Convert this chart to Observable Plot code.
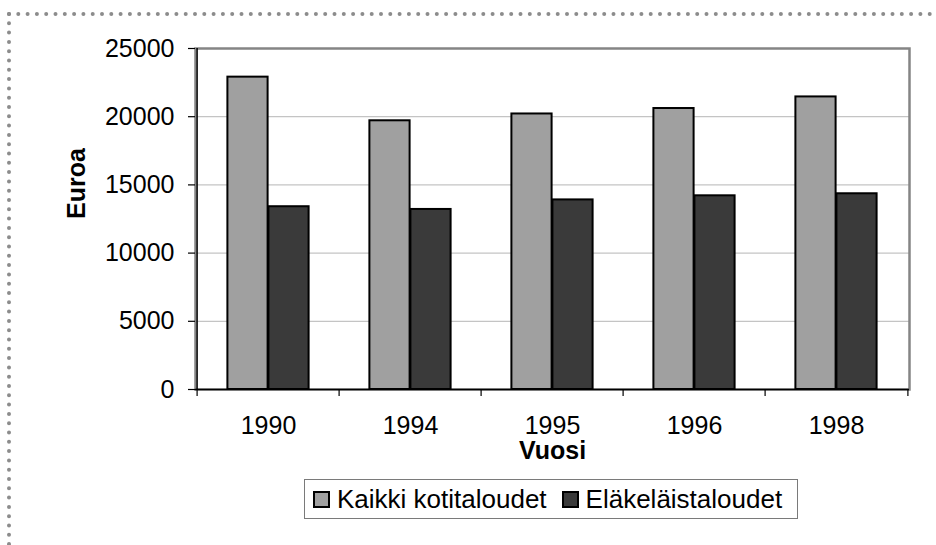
<!DOCTYPE html>
<html>
<head>
<meta charset="utf-8">
<script src="https://cdn.jsdelivr.net/npm/d3@7"></script>
<script src="https://cdn.jsdelivr.net/npm/@observablehq/plot@0.6"></script>
<style>
  html, body { margin: 0; padding: 0; background: #fff; }
  #wrap { position: relative; width: 936px; height: 545px; overflow: hidden; font-family: "Liberation Sans", Arial, sans-serif; }
  #dots { position: absolute; left: 0; top: 0; }
  #chart { position: absolute; left: 0; top: 0; }
  #legend { position: absolute; left: 304px; top: 479px; width: 494px; height: 40px; box-sizing: border-box;
            border: 1.5px solid #7a7a7a; display: flex; align-items: center; padding-left: 8px;
            font-size: 26px; color: #000; white-space: nowrap; }
  .sw { width: 17px; height: 17px; box-sizing: border-box; border: 2px solid #000; margin-right: 7px; flex: none; }
  .item { display: flex; align-items: center; }
</style>
</head>
<body>
<div id="wrap">
  <svg id="dots" width="936" height="545">
    <line x1="9" y1="14" x2="936" y2="14" stroke="#8c8c8c" stroke-width="4" stroke-linecap="round" stroke-dasharray="0 9.3"/>
    <line x1="9" y1="14" x2="9" y2="545" stroke="#8c8c8c" stroke-width="4" stroke-linecap="round" stroke-dasharray="0 9.3"/>
  </svg>
  <div id="chart"></div>
  <div id="legend"></div>
</div>
<script>
const years = ["1990", "1994", "1995", "1996", "1998"];
const kaikki = [22900, 19700, 20200, 20600, 21450];
const elake = [13400, 13200, 13900, 14200, 14350];
const yTicks = [0, 5000, 10000, 15000, 20000, 25000];
const seriesNames = ["Kaikki kotitaloudet", "Eläkeläistaloudet"];
const seriesColors = ["#a0a0a0", "#3a3a3a"];
const xTitle = "Vuosi";
const yTitle = "Euroa";

const rows = years.map((y, i) => ({year: y, kaikki: kaikki[i], elake: elake[i]}));

const W = 936, H = 465;
const mL = 195, mR = 27, mT = 48, mB = H - 389;
const step = (W - mL - mR) / years.length;
const barW = 41;
const font = "'Liberation Sans', Arial, sans-serif";

const chart = Plot.plot({
  width: W, height: H,
  marginLeft: mL, marginRight: mR, marginTop: mT, marginBottom: mB,
  style: {fontFamily: font, fontSize: "25px", color: "#000", background: "transparent"},
  x: {type: "band", domain: years, padding: 0},
  y: {domain: [0, 25000]},
  marks: [
    Plot.gridY(yTicks.filter(t => t > 0 && t < 25000), {stroke: "#c4c4c4", strokeOpacity: 1, strokeWidth: 1.2}),
    Plot.frame({stroke: "#858585", strokeWidth: 2.5}),
    Plot.barY(rows, {x: "year", y: "kaikki", fill: seriesColors[0], stroke: "#000", strokeWidth: 2,
      insetLeft: step / 2 - barW, insetRight: step / 2}),
    Plot.barY(rows, {x: "year", y: "elake", fill: seriesColors[1], stroke: "#000", strokeWidth: 2,
      insetLeft: step / 2, insetRight: step / 2 - barW}),
    Plot.ruleY([0], {stroke: "#000", strokeWidth: 1.5}),
    Plot.ruleX([years[0]], {x: d => d, y1: 0, y2: 25000, dx: -step / 2, stroke: "#000", strokeWidth: 1.5}),
    Plot.ruleX(years, {x: d => d, y1: 0, y2: 0, dx: -step / 2, insetBottom: -7, stroke: "#000", strokeWidth: 1.2}),
    Plot.ruleX([years[years.length - 1]], {x: d => d, y1: 0, y2: 0, dx: step / 2, insetBottom: -7, stroke: "#000", strokeWidth: 1.2}),
    Plot.axisY({ticks: yTicks, tickSize: 7, tickPadding: 14, tickFormat: d => String(d), label: null, fontSize: 25, stroke: "#000", strokeWidth: 1.2}),
    Plot.axisX({tickSize: 0, tickPadding: 27, label: null, fontSize: 25}),
    Plot.text([xTitle], {frameAnchor: "bottom", dy: 61.5, text: d => d, fontSize: 25, fontWeight: "bold", lineAnchor: "middle", fill: "#000"}),
    Plot.text([yTitle], {frameAnchor: "left", dx: -119, rotate: -90, text: d => d, fontSize: 25, fontWeight: "bold", lineAnchor: "middle", fill: "#000"})
  ]
});
document.getElementById("chart").appendChild(chart);

const legend = document.getElementById("legend");
seriesNames.forEach((name, i) => {
  const item = document.createElement("div");
  item.className = "item";
  if (i > 0) item.style.marginLeft = "15px";
  const sw = document.createElement("div");
  sw.className = "sw";
  sw.style.background = seriesColors[i];
  const t = document.createElement("span");
  t.textContent = name;
  item.appendChild(sw);
  item.appendChild(t);
  legend.appendChild(item);
});
</script>
</body>
</html>
